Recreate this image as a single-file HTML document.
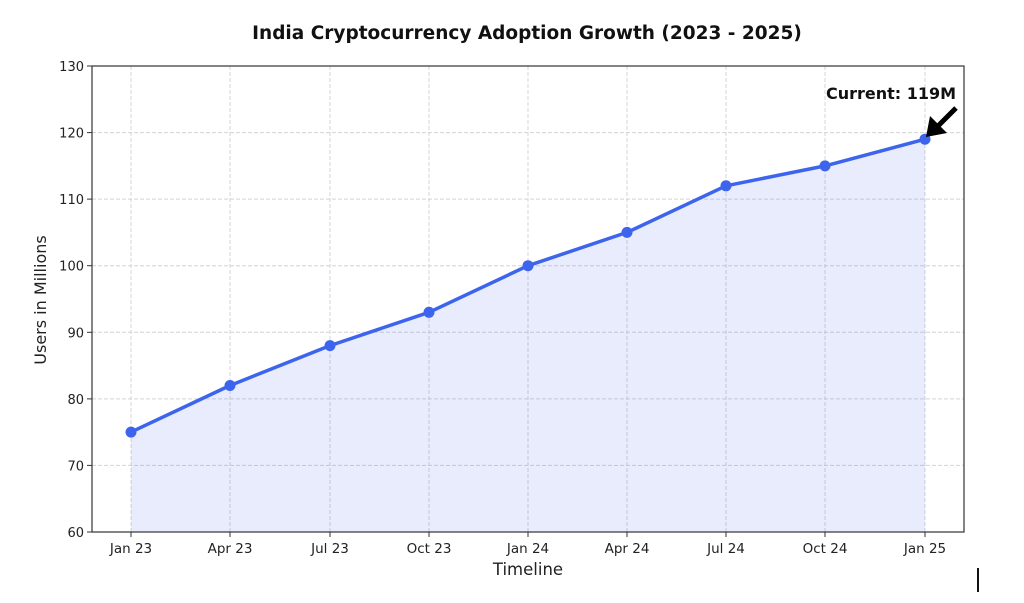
<!DOCTYPE html>
<html><head><meta charset="utf-8"><style>
html,body{margin:0;padding:0;background:#fff;}
svg{display:block;font-family:"DejaVu Sans","Liberation Sans",sans-serif;}
</style></head><body>
<svg width="1024" height="603" viewBox="0 0 1024 603">
<rect width="1024" height="603" fill="#fff"/>
<text x="527" y="39" text-anchor="middle" font-size="18.5" font-weight="bold" fill="#111">India Cryptocurrency Adoption Growth (2023 - 2025)</text>
<g stroke="#d4d4d8" stroke-width="1" stroke-dasharray="4,2">
<line x1="92" x2="964" y1="465.4" y2="465.4"/><line x1="92" x2="964" y1="398.9" y2="398.9"/>
<line x1="92" x2="964" y1="332.3" y2="332.3"/><line x1="92" x2="964" y1="265.7" y2="265.7"/>
<line x1="92" x2="964" y1="199.1" y2="199.1"/><line x1="92" x2="964" y1="132.6" y2="132.6"/>
<line y1="66" y2="532" x1="131" x2="131"/><line y1="66" y2="532" x1="230" x2="230"/>
<line y1="66" y2="532" x1="330" x2="330"/><line y1="66" y2="532" x1="429" x2="429"/>
<line y1="66" y2="532" x1="528" x2="528"/><line y1="66" y2="532" x1="627" x2="627"/>
<line y1="66" y2="532" x1="726" x2="726"/><line y1="66" y2="532" x1="825" x2="825"/>
<line y1="66" y2="532" x1="925" x2="925"/>
</g>
<polygon points="131,532 131,432.1 230,385.5 330,345.6 429,312.3 528,265.7 627,232.4 726,185.8 825,165.9 925,139.2 925,532" fill="#4a6cf0" fill-opacity="0.13"/>
<polyline points="131,432.1 230,385.5 330,345.6 429,312.3 528,265.7 627,232.4 726,185.8 825,165.9 925,139.2" fill="none" stroke="#3d64ec" stroke-width="3.5" stroke-linejoin="round"/>
<g fill="#3d64ec">
<circle cx="131" cy="432.1" r="5.5"/><circle cx="230" cy="385.5" r="5.5"/><circle cx="330" cy="345.6" r="5.5"/>
<circle cx="429" cy="312.3" r="5.5"/><circle cx="528" cy="265.7" r="5.5"/><circle cx="627" cy="232.4" r="5.5"/>
<circle cx="726" cy="185.8" r="5.5"/><circle cx="825" cy="165.9" r="5.5"/><circle cx="925" cy="139.2" r="5.5"/>
</g>
<rect x="92" y="66" width="872" height="466" fill="none" stroke="#333" stroke-width="1.2"/>
<g stroke="#333" stroke-width="1">
<line x1="87" x2="92" y1="532" y2="532"/><line x1="87" x2="92" y1="465.4" y2="465.4"/><line x1="87" x2="92" y1="398.9" y2="398.9"/>
<line x1="87" x2="92" y1="332.3" y2="332.3"/><line x1="87" x2="92" y1="265.7" y2="265.7"/><line x1="87" x2="92" y1="199.1" y2="199.1"/>
<line x1="87" x2="92" y1="132.6" y2="132.6"/><line x1="87" x2="92" y1="66" y2="66"/>
<line y1="532" y2="537" x1="131" x2="131"/><line y1="532" y2="537" x1="230" x2="230"/><line y1="532" y2="537" x1="330" x2="330"/>
<line y1="532" y2="537" x1="429" x2="429"/><line y1="532" y2="537" x1="528" x2="528"/><line y1="532" y2="537" x1="627" x2="627"/>
<line y1="532" y2="537" x1="726" x2="726"/><line y1="532" y2="537" x1="825" x2="825"/><line y1="532" y2="537" x1="925" x2="925"/>
</g>
<g font-size="13" fill="#222" text-anchor="end">
<text x="84" y="537">60</text><text x="84" y="470.4">70</text><text x="84" y="403.9">80</text><text x="84" y="337.3">90</text>
<text x="84" y="270.7">100</text><text x="84" y="204.1">110</text><text x="84" y="137.6">120</text><text x="84" y="71">130</text>
</g>
<g font-size="13.5" fill="#222" text-anchor="middle">
<text x="131" y="553">Jan 23</text><text x="230" y="553">Apr 23</text><text x="330" y="553">Jul 23</text>
<text x="429" y="553">Oct 23</text><text x="528" y="553">Jan 24</text><text x="627" y="553">Apr 24</text>
<text x="726" y="553">Jul 24</text><text x="825" y="553">Oct 24</text><text x="925" y="553">Jan 25</text>
</g>
<text x="528" y="575" text-anchor="middle" font-size="16.5" fill="#222">Timeline</text>
<text transform="translate(46,300) rotate(-90)" text-anchor="middle" font-size="16" fill="#222">Users in Millions</text>
<text x="891" y="99" text-anchor="middle" font-size="16" font-weight="bold" fill="#111">Current: 119M</text>
<line x1="956" y1="108" x2="938" y2="126" stroke="#000" stroke-width="5"/>
<polygon points="926,137 930,116 947,133" fill="#000"/>
<rect x="977" y="568" width="2" height="24" fill="#111"/>
</svg>
</body></html>
